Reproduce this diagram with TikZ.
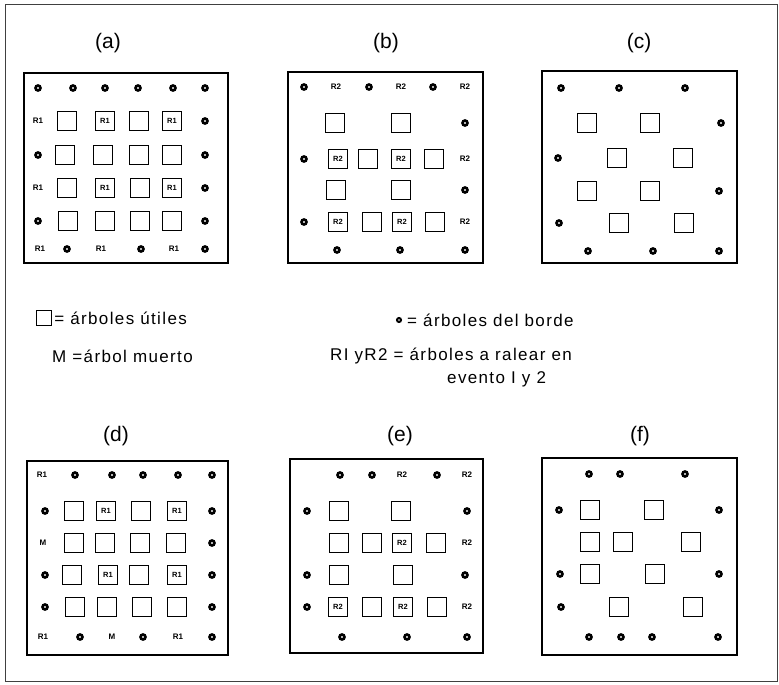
\documentclass[tikz,border=0pt]{standalone}
\usepackage{fontspec}
\setmainfont{Liberation Sans}
\usepackage{tikz}
\usetikzlibrary{positioning}
\tikzset{
  Panel/.style={line width=1.8pt},
  Frame/.style={line width=0.8pt, black!75},
  Tsq/.style={draw, line width=1.8pt, minimum size=19pt, inner sep=0pt,
              font=\bfseries\fontsize{7.5}{7.5}\selectfont},
  Tdot/.style={circle, draw, fill=white, line width=2.6pt, minimum size=5pt,
               inner sep=0pt},
  Tlab/.style={inner sep=0pt, font=\bfseries\fontsize{8}{8}\selectfont},
  Ttitle/.style={inner sep=0pt, font=\fontsize{21}{21}\selectfont},
  Tleg/.style={inner sep=0pt, font=\fontsize{17}{20}\selectfont\addfontfeatures{LetterSpace=8}}
}

\begin{document}
\begin{tikzpicture}[x=1pt, y=-1pt]
  \useasboundingbox (0,0) rectangle (779,685);
  \draw[Frame] (5,4) rectangle (777,681);

  % titles
  \node[Ttitle] (ta) at (108,43) {(a)};
  \node[Ttitle] (tb) at (386,43) {(b)};
  \node[Ttitle] (tc) at (639,43) {(c)};
  \node[Ttitle] (td) at (116,436) {(d)};
  \node[Ttitle] (te) at (400,436) {(e)};
  \node[Ttitle] (tf) at (640,436) {(f)};

  % panel frames
  \draw[Panel] (24,73) rectangle (228,263);
  \draw[Panel] (288,72) rectangle (483,263);
  \draw[Panel] (542,71) rectangle (737,263);
  \draw[Panel] (27,461) rectangle (228,655);
  \draw[Panel] (290,459) rectangle (483,653);
  \draw[Panel] (542,458) rectangle (737,655);

  % (a)
  \foreach \x/\y/\k/\t [count=\i] in {
    38/88/Tdot/{}, 73/88/Tdot/{}, 105/88/Tdot/{}, 138/88/Tdot/{}, 173/88/Tdot/{}, 205/88/Tdot/{},
    38/121/Tlab/R1, 67/121/Tsq/{}, 105/121/Tsq/R1, 139/121/Tsq/{}, 172/121/Tsq/R1, 205/121/Tdot/{},
    38/155/Tdot/{}, 65/155/Tsq/{}, 103/155/Tsq/{}, 139/155/Tsq/{}, 172/155/Tsq/{}, 205/155/Tdot/{},
    38/188/Tlab/R1, 67/188/Tsq/{}, 105/188/Tsq/R1, 140/188/Tsq/{}, 172/188/Tsq/R1, 205/188/Tdot/{},
    38/221/Tdot/{}, 68/221/Tsq/{}, 105/221/Tsq/{}, 140/221/Tsq/{}, 172/221/Tsq/{}, 205/221/Tdot/{},
    40/249/Tlab/R1, 67/249/Tdot/{}, 101/249/Tlab/R1, 141/249/Tdot/{}, 174/249/Tlab/R1, 205/249/Tdot/{}}
    \node[\k] (a-\i) at (\x,\y) {\t};

  % (b)
  \foreach \x/\y/\k/\t [count=\i] in {
    304/87/Tdot/{}, 336/87/Tlab/R2, 369/87/Tdot/{}, 401/87/Tlab/R2, 433/87/Tdot/{}, 465/87/Tlab/R2,
    335/123/Tsq/{}, 401/123/Tsq/{}, 465/123/Tdot/{},
    304/159/Tdot/{}, 338/159/Tsq/R2, 368/159/Tsq/{}, 401/159/Tsq/R2, 434/159/Tsq/{}, 465/159/Tlab/R2,
    336/190/Tsq/{}, 401/190/Tsq/{}, 465/190/Tdot/{},
    304/222/Tdot/{}, 338/222/Tsq/R2, 372/222/Tsq/{}, 402/222/Tsq/R2, 435/222/Tsq/{}, 465/222/Tlab/R2,
    337/250/Tdot/{}, 400/250/Tdot/{}, 465/250/Tdot/{}}
    \node[\k] (b-\i) at (\x,\y) {\t};

  % (c)
  \foreach \x/\y/\k/\t [count=\i] in {
    561/88/Tdot/{}, 619/88/Tdot/{}, 685/88/Tdot/{},
    587/123/Tsq/{}, 650/123/Tsq/{}, 721/123/Tdot/{},
    558/158/Tdot/{}, 617/158/Tsq/{}, 683/158/Tsq/{},
    587/191/Tsq/{}, 650/191/Tsq/{}, 719/191/Tdot/{},
    559/223/Tdot/{}, 619/223/Tsq/{}, 684/223/Tsq/{},
    588/251/Tdot/{}, 653/251/Tdot/{}, 719/251/Tdot/{}}
    \node[\k] (c-\i) at (\x,\y) {\t};

  % (d)
  \foreach \x/\y/\k/\t [count=\i] in {
    42/475/Tlab/R1, 75/475/Tdot/{}, 112/475/Tdot/{}, 143/475/Tdot/{}, 178/475/Tdot/{}, 212/475/Tdot/{},
    45/511/Tdot/{}, 74/511/Tsq/{}, 106/511/Tsq/R1, 141/511/Tsq/{}, 177/511/Tsq/R1, 212/511/Tdot/{},
    43/543/Tlab/M, 74/543/Tsq/{}, 105/543/Tsq/{}, 140/543/Tsq/{}, 176/543/Tsq/{}, 212/543/Tdot/{},
    45/575/Tdot/{}, 72/575/Tsq/{}, 108/575/Tsq/R1, 139/575/Tsq/{}, 177/575/Tsq/R1, 212/575/Tdot/{},
    45/607/Tdot/{}, 75/607/Tsq/{}, 107/607/Tsq/{}, 142/607/Tsq/{}, 177/607/Tsq/{}, 212/607/Tdot/{},
    43/637/Tlab/R1, 80/637/Tdot/{}, 112/637/Tlab/M, 143/637/Tdot/{}, 178/637/Tlab/R1, 212/637/Tdot/{}}
    \node[\k] (d-\i) at (\x,\y) {\t};

  % (e)
  \foreach \x/\y/\k/\t [count=\i] in {
    340/475/Tdot/{}, 372/475/Tdot/{}, 402/475/Tlab/R2, 437/475/Tdot/{}, 467/475/Tlab/R2,
    307/511/Tdot/{}, 339/511/Tsq/{}, 401/511/Tsq/{}, 467/511/Tdot/{},
    339/543/Tsq/{}, 372/543/Tsq/{}, 402/543/Tsq/R2, 436/543/Tsq/{}, 467/543/Tlab/R2,
    307/575/Tdot/{}, 339/575/Tsq/{}, 403/575/Tsq/{}, 465/575/Tdot/{},
    307/607/Tdot/{}, 338/607/Tsq/R2, 372/607/Tsq/{}, 403/607/Tsq/R2, 437/607/Tsq/{}, 467/607/Tlab/R2,
    342/637/Tdot/{}, 407/637/Tdot/{}, 467/637/Tdot/{}}
    \node[\k] (e-\i) at (\x,\y) {\t};

  % (f)
  \foreach \x/\y/\k/\t [count=\i] in {
    589/474/Tdot/{}, 620/474/Tdot/{}, 685/474/Tdot/{},
    559/510/Tdot/{}, 590/510/Tsq/{}, 654/510/Tsq/{}, 719/510/Tdot/{},
    590/542/Tsq/{}, 623/542/Tsq/{}, 691/542/Tsq/{},
    560/574/Tdot/{}, 590/574/Tsq/{}, 655/574/Tsq/{}, 719/574/Tdot/{},
    561/607/Tdot/{}, 619/607/Tsq/{}, 693/607/Tsq/{},
    589/637/Tdot/{}, 621/637/Tdot/{}, 652/637/Tdot/{}, 718/637/Tdot/{}}
    \node[\k] (f-\i) at (\x,\y) {\t};

  % legend
  \node[Tsq, minimum size=15pt, line width=1.3pt] (lsq) at (44,318) {};
  \node[Tleg, anchor=west, right=2pt of lsq] (lsqt) {= árboles útiles};
  \node[Tdot, minimum size=4pt, line width=2pt] (ldot) at (399,320) {};
  \node[Tleg, anchor=west, right=5pt of ldot] (ldott) {= árboles del borde};
  \node[Tleg, anchor=west] (lm) at (52,356) {M =árbol muerto};
  \node[Tleg, anchor=west] (lr) at (330,356) {RI yR2 = árboles a ralear en};
  \node[Tleg, anchor=west] (lr2) at (447,379) {evento I y 2};
\end{tikzpicture}
\end{document}
